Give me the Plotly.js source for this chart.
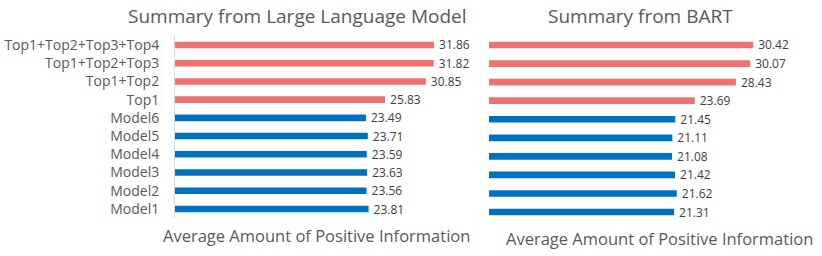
<!DOCTYPE html>
<html><head><meta charset="utf-8">
<script src="https://cdn.plot.ly/plotly-3.0.1.min.js"></script>
<style>html,body{margin:0;padding:0;background:#fff}#c{width:822px;height:256px}</style>
</head><body><div id="c"></div>
<script>
const categories = ["Model1","Model2","Model3","Model4","Model5","Model6","Top1","Top1+Top2","Top1+Top2+Top3","Top1+Top2+Top3+Top4"];
const llmValues  = [23.81, 23.56, 23.63, 23.59, 23.71, 23.49, 25.83, 30.85, 31.82, 31.86];
const bartValues = [21.31, 21.62, 21.42, 21.08, 21.11, 21.45, 23.69, 28.43, 30.07, 30.42];
const panelTitles = ["Summary from Large Language Model", "Summary from BART"];
const axisTitle = "Average Amount of Positive Information";

const FONT = "'Open Sans', 'Noto Sans', sans-serif";
const colorFor = c => c.startsWith("Top") ? "#EF7170" : "#0070C0";
const colors = categories.map(colorFor);

function barTrace(vals, xa, ya) {
  return {
    type: "bar", orientation: "h", y: categories, x: vals,
    xaxis: xa, yaxis: ya, width: 0.36,
    marker: {color: colors},
    text: vals.map(v => "\u2009" + v.toFixed(2)), textposition: "outside", constraintext: "none",
    textfont: {family: FONT, size: 12, color: "#404040"},
    cliponaxis: false, hoverinfo: "skip", showlegend: false
  };
}

const data = [barTrace(llmValues, "x", "y"), barTrace(bartValues, "x2", "y2")];

const layout = {
  width: 822, height: 256,
  margin: {l: 0, r: 0, t: 0, b: 0},
  paper_bgcolor: "#fff", plot_bgcolor: "#fff",
  font: {family: FONT, color: "#595959"},
  xaxis: {domain: [0.2129, 0.5591], range: [0, 35], visible: false, fixedrange: true},
  yaxis: {domain: [0.148, 0.860], anchor: "x", showline: true, linecolor: "#D9D9D9", linewidth: 1,
          showgrid: false, ticks: "", ticklabelstandoff: 12, tickfont: {family: FONT, size: 14, color: "#595959"}},
  xaxis2: {domain: [0.5949, 0.9647], range: [0, 35], visible: false, anchor: "y2"},
  yaxis2: {domain: [0.1355, 0.8605], anchor: "x2", showline: false, showgrid: false, showticklabels: false, ticks: ""},
  annotations: [
    {text: panelTitles[0], x: 297, y: 16, showarrow: false, font: {family: FONT, size: 19, color: "#595959"}},
    {text: panelTitles[1], x: 640, y: 16, showarrow: false, font: {family: FONT, size: 19, color: "#595959"}},
    {text: axisTitle, x: 316, y: 235, showarrow: false, font: {family: FONT, size: 16.5, color: "#595959"}},
    {text: axisTitle, x: 659, y: 238, showarrow: false, font: {family: FONT, size: 16.5, color: "#595959"}}
  ]
};
layout.annotations.forEach(a => {
  a.xref = "paper"; a.yref = "paper";
  a.x = a.x / 822; a.y = 1 - a.y / 256;
  a.xanchor = "center"; a.yanchor = "middle";
});

Plotly.newPlot("c", data, layout, {displayModeBar: false, staticPlot: true});
</script></body></html>
